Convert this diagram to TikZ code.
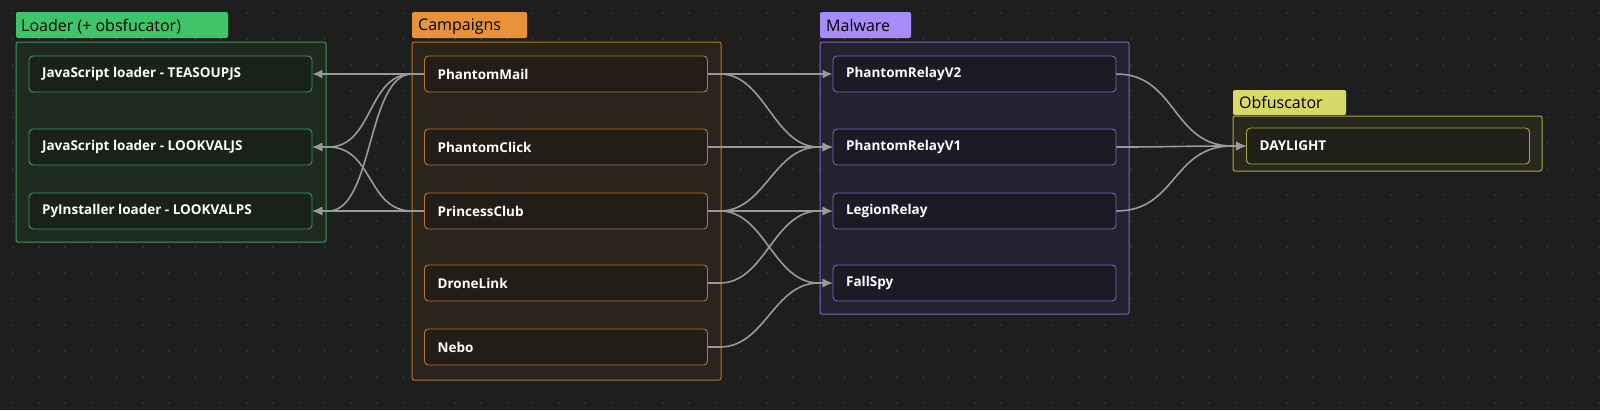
\documentclass[tikz,border=0pt]{standalone}
\usepackage{fontspec}
\setmainfont{Open Sans}
\usetikzlibrary{calc,arrows.meta}
\definecolor{bg}{HTML}{1E1E1E}
\definecolor{gB}{HTML}{3F9A55}\definecolor{gF}{HTML}{1F2A21}\definecolor{gT}{HTML}{3FC46A}
\definecolor{oB}{HTML}{B8752E}\definecolor{oF}{HTML}{2A241D}\definecolor{oT}{HTML}{E8923A}
\definecolor{pB}{HTML}{7B65C0}\definecolor{pF}{HTML}{242130}\definecolor{pT}{HTML}{A78BFA}
\definecolor{yB}{HTML}{A8A848}\definecolor{yF}{HTML}{28281E}\definecolor{yT}{HTML}{D9D96A}
\definecolor{edge}{HTML}{9A9A9A}
\begin{document}
\begin{tikzpicture}[x=1pt,y=-1pt,
  grp/.style={draw=#1B,fill=#1F,line width=1pt,rounded corners=2pt},
  tag/.style={fill=#1T,text=black,rounded corners=2pt,inner sep=0pt,font=\fontsize{16}{18}\selectfont,anchor=west,text depth=0pt,align=left},
  nd/.style={draw=#1B,fill=#1F!80!black,line width=0.9pt,rounded corners=4pt,minimum width=283pt,minimum height=36pt,inner sep=0pt},
  lbl/.style={text=white,font=\bfseries\fontsize{13.5}{15}\selectfont,anchor=west},
  e/.style={draw=edge,line width=1.6pt},
  ar/.style={e,-{Latex[length=10pt,width=9pt]}}]
\fill[bg] (0,0) rectangle (1600,410);
\useasboundingbox (0,0) rectangle (1600,410);
\foreach \i in {0,...,61}{\foreach \j in {0,...,15}{\fill[white!18!bg] (13+\i*26,13+\j*26) circle (0.8pt);}}
% groups
\draw[grp=g] (16,42) rectangle (326,242);
\draw[grp=o] (412,42) rectangle (721,380);
\draw[grp=p] (820,42) rectangle (1129,314);
\draw[grp=y] (1233,116) rectangle (1542,171);
\fill[gT,rounded corners=2pt] (16,12) rectangle (228,38);
\fill[oT,rounded corners=2pt] (412,12) rectangle (527,38);
\fill[pT,rounded corners=2pt] (820,12) rectangle (911,38);
\fill[yT,rounded corners=2pt] (1233,90) rectangle (1346,115);
\node[tag=g] (tg) at (21,25) {Loader (+ obsfucator)};
\node[tag=o] (to) at (418,25) {Campaigns};
\node[tag=p] (tp) at (826,25) {Malware};
\node[tag=y] (ty) at (1239,102.5) {Obfuscator};
% nodes
\node[nd=g] (l1) at (170.5,74) {}; \node[lbl] at ($(l1.west)+(10,0)$) {JavaScript loader - TEASOUPJS};
\node[nd=g] (l2) at (170.5,147) {}; \node[lbl] at ($(l2.west)+(10,0)$) {JavaScript loader - LOOKVALJS};
\node[nd=g] (l3) at (170.5,211) {}; \node[lbl] at ($(l3.west)+(10,0)$) {PyInstaller loader - LOOKVALPS};
\node[nd=o] (c1) at (566,74) {}; \node[lbl] at ($(c1.west)+(10,0)$) {PhantomMail};
\node[nd=o] (c2) at (566,147) {}; \node[lbl] at ($(c2.west)+(10,0)$) {PhantomClick};
\node[nd=o] (c3) at (566,211) {}; \node[lbl] at ($(c3.west)+(10,0)$) {PrincessClub};
\node[nd=o] (c4) at (566,283) {}; \node[lbl] at ($(c4.west)+(10,0)$) {DroneLink};
\node[nd=o] (c5) at (566,347) {}; \node[lbl] at ($(c5.west)+(10,0)$) {Nebo};
\node[nd=p] (m1) at (974.5,74) {}; \node[lbl] at ($(m1.west)+(10,0)$) {PhantomRelayV2};
\node[nd=p] (m2) at (974.5,147) {}; \node[lbl] at ($(m2.west)+(10,0)$) {PhantomRelayV1};
\node[nd=p] (m3) at (974.5,211) {}; \node[lbl] at ($(m3.west)+(10,0)$) {LegionRelay};
\node[nd=p] (m4) at (974.5,283) {}; \node[lbl] at ($(m4.west)+(10,0)$) {FallSpy};
\node[nd=y] (d1) at (1388,146) {}; \node[lbl] at ($(d1.west)+(10,0)$) {DAYLIGHT};
% edges to loaders (leftward)
\foreach \s/\t in {c1/l1,c1/l2,c1/l3,c3/l2,c3/l3}{
  \draw[ar] (\s.west) -- ++(-12,0) .. controls +(-45,0) and +(45,0) .. ($(\t.east)+(16,0)$) -- (\t.east);}
% edges to malware
\foreach \s/\t in {c1/m1,c1/m2,c2/m2,c3/m2,c3/m3,c3/m4,c4/m3,c5/m4}{
  \draw[ar] (\s.east) -- ++(12,0) .. controls +(45,0) and +(-45,0) .. ($(\t.west)+(-14,0)$) -- (\t.west);}
% edges to obfuscator
\foreach \s in {m1,m2,m3}{
  \draw[ar] (\s.east) .. controls +(60,0) and +(-60,0) .. ($(d1.west)+(-14,0)$) -- (d1.west);}
\end{tikzpicture}
\end{document}
